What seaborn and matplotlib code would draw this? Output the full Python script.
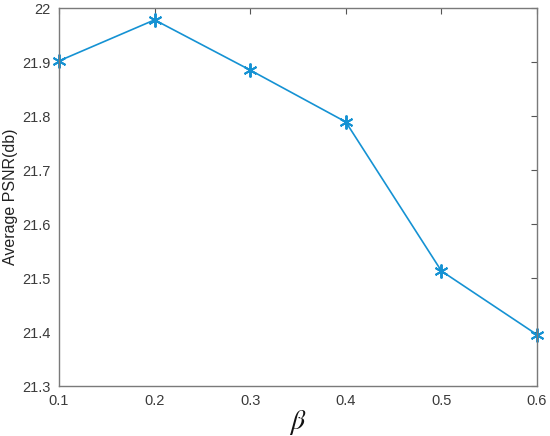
import matplotlib
matplotlib.use('Agg')
import matplotlib.pyplot as plt
import seaborn as sns
import pandas as pd

# 数据
beta = [0.1, 0.2, 0.3, 0.4, 0.5, 0.6]
psnr = [21.902, 21.978, 21.885, 21.789, 21.513, 21.395]
x_ticks = [0.1, 0.2, 0.3, 0.4, 0.5, 0.6]
y_ticks = [21.3, 21.4, 21.5, 21.6, 21.7, 21.8, 21.9, 22.0]

sns.set_style('white')
plt.rcParams['font.family'] = ['Liberation Sans', 'DejaVu Sans']
plt.rcParams['mathtext.fontset'] = 'stix'

df = pd.DataFrame({'beta': beta, 'psnr': psnr})

fig = plt.figure(figsize=(5.5, 4.36), dpi=100)
ax = fig.add_axes([59 / 550, 1 - 386 / 436, 478 / 550, 378 / 436])

line_color = '#1592D3'
sns.lineplot(data=df, x='beta', y='psnr', ax=ax, color=line_color,
             marker=(6, 2, 0), markersize=10, markeredgecolor=line_color,
             markeredgewidth=1.4, linewidth=1.2, clip_on=False)

ax.set_xlim(0.1, 0.6)
ax.set_ylim(21.3, 22.0)
ax.set_xticks(x_ticks)
ax.set_xticklabels([f'{v:g}' for v in x_ticks])
ax.set_yticks(y_ticks)
ax.set_yticklabels([f'{v:g}' for v in y_ticks])

for s in ax.spines.values():
    s.set_color('#7a7a7a')
    s.set_linewidth(1.0)
ax.tick_params(direction='in', length=4, width=0.8, color='#555555',
               labelsize=10.5, labelcolor='#3a3a3a', top=True, right=True,
               pad=6)

ax.set_ylabel('Average PSNR(db)', fontsize=11.5, color='#222222', labelpad=3)
ax.set_xlabel(r'$\beta$', fontsize=20, color='#111111', labelpad=0)

fig.savefig('out.png', dpi=100)
